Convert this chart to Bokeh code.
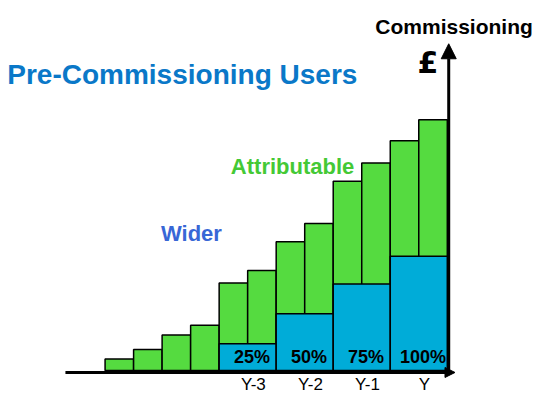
from bokeh.plotting import figure
from bokeh.models import Range1d, Label, Arrow, NormalHead, ColumnDataSource
from bokeh.core.properties import value
from bokeh.embed import file_html
from bokeh.resources import INLINE

# ---- data (heights, arbitrary £ units) ----
totals = [12, 22, 37, 47, 91, 104, 134, 153, 197, 216, 239, 261]   # attributable (green) bar tops
wider = [28, 59, 90, 119]                                            # wider (blue) spans, one per year
shares = ["25%", "50%", "75%", "100%"]
years = ["Y-3", "Y-2", "Y-1", "Y"]

GREEN = "#55db40"
BLUE = "#00acd8"
FONT = "Liberation Sans"

W, H = 536, 396
p = figure(width=W, height=H, output_backend="svg", toolbar_location=None,
           x_range=Range1d(-3.667, 15.128), y_range=Range1d(-27, 385),
           min_border=0)
p.xaxis.visible = False
p.yaxis.visible = False
p.grid.visible = False
p.outline_line_color = None
p.background_fill_color = "white"

n = len(totals)
gx = [i + 0.5 for i in range(n)]
p.vbar(x=gx, width=1, top=totals, bottom=0, fill_color=GREEN,
       line_color="black", line_width=1.5)

first = n - 2 * len(wider)
bx = [first + 2 * k + 1 for k in range(len(wider))]
p.vbar(x=bx, width=2, top=wider, bottom=0, fill_color=BLUE,
       line_color="black", line_width=1.5)

src = ColumnDataSource(dict(x=[v + 0.15 for v in bx], y=[14] * len(bx), t=shares))
p.text(x="x", y="y", text="t", source=src, text_align="center",
       text_baseline="middle", text_font=value(FONT), text_font_style="bold",
       text_font_size="18px", text_color="black")

ysrc = ColumnDataSource(dict(x=[v + 0.2 for v in bx], y=[-14] * len(bx), t=years))
p.text(x="x", y="y", text="t", source=ysrc, text_align="center",
       text_baseline="middle", text_font=value(FONT),
       text_font_size="17px", text_color="black")

# axes with arrows
p.add_layout(Arrow(end=NormalHead(size=10, fill_color="black", line_color="black"),
                   x_start=-1.39, y_start=-2, x_end=12.27, y_end=-2,
                   line_width=3, line_color="black"))
p.add_layout(Arrow(end=NormalHead(size=15, fill_color="black", line_color="black"),
                   x_start=12.05, y_start=-3, x_end=12.05, y_end=340,
                   line_width=3, line_color="black"))

# annotation texts
p.add_layout(Label(x=-3.43, y=308, text="Pre-Commissioning Users", text_font=FONT,
                   text_font_style="bold", text_font_size="28px",
                   text_color="#0a78c8", text_baseline="alphabetic"))
p.add_layout(Label(x=15.0, y=358, text="Commissioning", text_font=FONT,
                   text_font_style="bold", text_font_size="21px",
                   text_color="black", text_align="right", text_baseline="alphabetic"))
p.add_layout(Label(x=11.32, y=320, text="£", text_font="DejaVu Sans",
                   text_font_style="bold", text_font_size="30px", text_color="black",
                   text_align="center", text_baseline="alphabetic"))
p.add_layout(Label(x=4.41, y=212, text="Attributable", text_font=FONT,
                   text_font_style="bold", text_font_size="22px",
                   text_color="#44c935", text_baseline="alphabetic"))
p.add_layout(Label(x=1.96, y=143, text="Wider", text_font=FONT,
                   text_font_style="bold", text_font_size="22px",
                   text_color="#3867d6", text_baseline="alphabetic"))

open("out.html", "w").write(file_html(p, INLINE))
